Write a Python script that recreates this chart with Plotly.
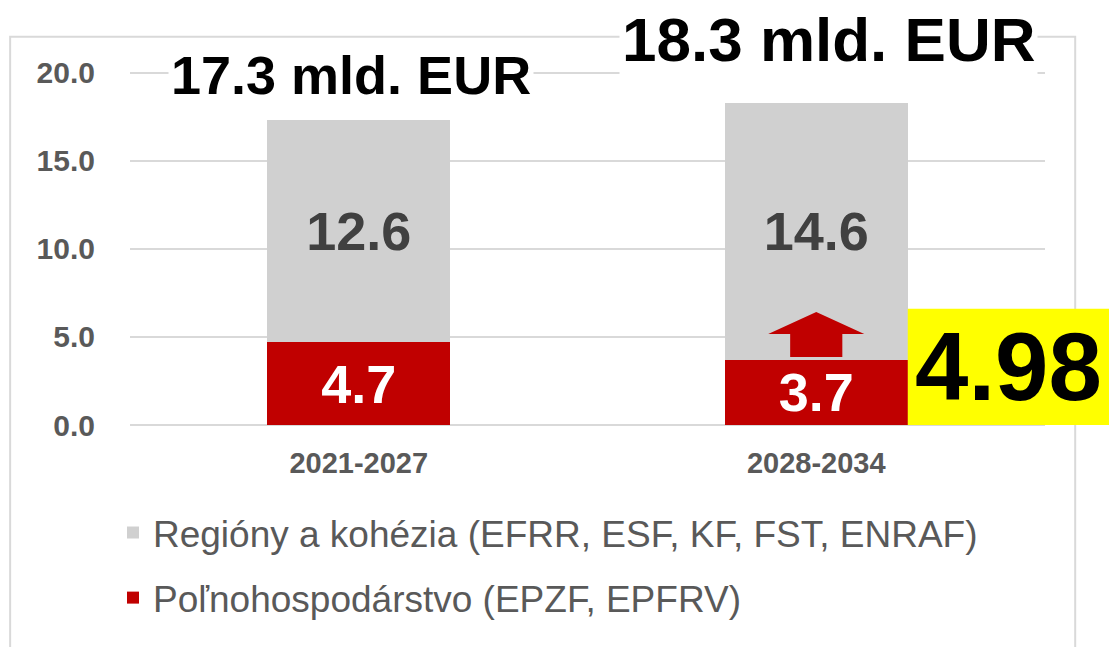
import plotly.graph_objects as go

# ---------------- data ----------------
periods = ["2021-2027", "2028-2034"]
agri = [4.7, 3.7]            # Poľnohospodárstvo (EPZF, EPFRV)
regions = [12.6, 14.6]       # Regióny a kohézia
agri_new = 4.98              # highlighted new value
y_tick_vals = [0, 5, 10, 15, 20]
legend_regions = "Regióny a kohézia (EFRR, ESF, KF, FST, ENRAF)"
legend_agri = "Poľnohospodárstvo (EPZF, EPFRV)"
total_suffix = " mld. EUR"

# ---------------- style ----------------
FONT = "Liberation Sans, Arial, sans-serif"
RED = "#C00000"
GRAY = "#D0D0D0"
GRID = "#D9D9D9"
TXT = "#595959"
YELLOW = "#FFFF00"
BAR_W = 0.4
X_RANGE = [-0.5, 1.5]
Y_RANGE = [0, 21]

x_idx = list(range(len(periods)))
totals = [a + r for a, r in zip(agri, regions)]

fig = go.Figure()
fig.add_trace(go.Bar(
    x=x_idx, y=agri, width=BAR_W, name=legend_agri, legendgroup="agri", legendrank=2,
    marker=dict(color=RED, line=dict(width=0)),
    texttemplate="%{y:.1f}", textposition="inside", insidetextanchor="middle",
    textangle=0, textfont=dict(color="white", size=54, family=FONT, weight="bold"),
    hoverinfo="skip",
))
fig.add_trace(go.Bar(
    x=x_idx, y=regions, width=BAR_W, name=legend_regions, legendgroup="reg", legendrank=1,
    marker=dict(color=GRAY, line=dict(width=0)),
    texttemplate="%{y:.1f}", textposition="inside", insidetextanchor="middle",
    textangle=0, textfont=dict(color="#404040", size=54, family=FONT, weight="bold"),
    hoverinfo="skip",
))

# total labels above bars
total_shift = [(-8, 45, 54), (12, 63, 62)]
for i, t in enumerate(totals):
    xs, ys, fs = total_shift[i]
    fig.add_annotation(
        x=x_idx[i], y=t, xref="x", yref="y", text=f"{t:.1f}{total_suffix}",
        showarrow=False, xshift=xs, yshift=ys, yanchor="middle",
        font=dict(size=fs, color="black", family=FONT, weight="bold"),
        bgcolor="white", borderpad=2,
    )

# outer border frame
fig.add_shape(type="rect", xref="paper", yref="paper",
              x0=-0.131, x1=1.033, y0=-0.7, y1=1.049,
              line=dict(color=GRID, width=2), fillcolor="rgba(0,0,0,0)", layer="below")

# up arrow inside the 2028-2034 bar (from agri value upwards)
xc = x_idx[1]
sw, hw = 0.057, 0.105
b = agri[1] + 0.16
hb = b + 1.3
tip = hb + 1.25
path = (f"M{xc - sw},{b} L{xc - sw},{hb} L{xc - hw},{hb} L{xc},{tip} "
        f"L{xc + hw},{hb} L{xc + sw},{hb} L{xc + sw},{b} Z")
fig.add_shape(type="path", path=path, xref="x", yref="y",
              fillcolor=RED, line=dict(width=0), layer="above")

# yellow highlight box with new value
box_x0 = (x_idx[1] + BAR_W / 2 - X_RANGE[0]) / (X_RANGE[1] - X_RANGE[0])
box_top = 6.6
fig.add_shape(type="rect", xref="paper", yref="y",
              x0=box_x0, x1=1.1, y0=0, y1=box_top,
              fillcolor=YELLOW, line=dict(width=0), layer="above")
fig.add_annotation(
    x=(box_x0 + 1.07) / 2, y=box_top / 2, xref="paper", yref="y",
    text=f"{agri_new:.2f}", showarrow=False, xanchor="center", yanchor="middle",
    font=dict(size=96, color="black", family=FONT, weight="bold"),
)

fig.update_layout(
    width=1109, height=647,
    margin=dict(l=130, r=64, t=55, b=222),
    barmode="stack",
    paper_bgcolor="white", plot_bgcolor="white",
    font=dict(family=FONT, color=TXT),
    uniformtext=dict(minsize=54, mode="show"),
    showlegend=True,
    legend=dict(
        x=-0.0186, xanchor="left", y=-0.208, yanchor="top",
        orientation="v", traceorder="grouped", tracegroupgap=14,
        font=dict(size=37, color=TXT, family=FONT),
        bgcolor="rgba(0,0,0,0)",
    ),
    xaxis=dict(
        range=X_RANGE, tickvals=x_idx, ticktext=periods,
        showgrid=False, zeroline=False, showline=False, ticks="",
        tickfont=dict(size=29, color=TXT, family=FONT, weight="bold"),
        ticklabelstandoff=18,
    ),
    yaxis=dict(
        range=Y_RANGE, tickvals=y_tick_vals, tickformat=".1f",
        showgrid=True, gridcolor=GRID, gridwidth=2,
        zeroline=True, zerolinecolor=GRID, zerolinewidth=2,
        showline=False, ticks="",
        tickfont=dict(size=30, color=TXT, family=FONT, weight="bold"),
        ticklabelstandoff=34,
    ),
)

fig.write_html("out.html")
